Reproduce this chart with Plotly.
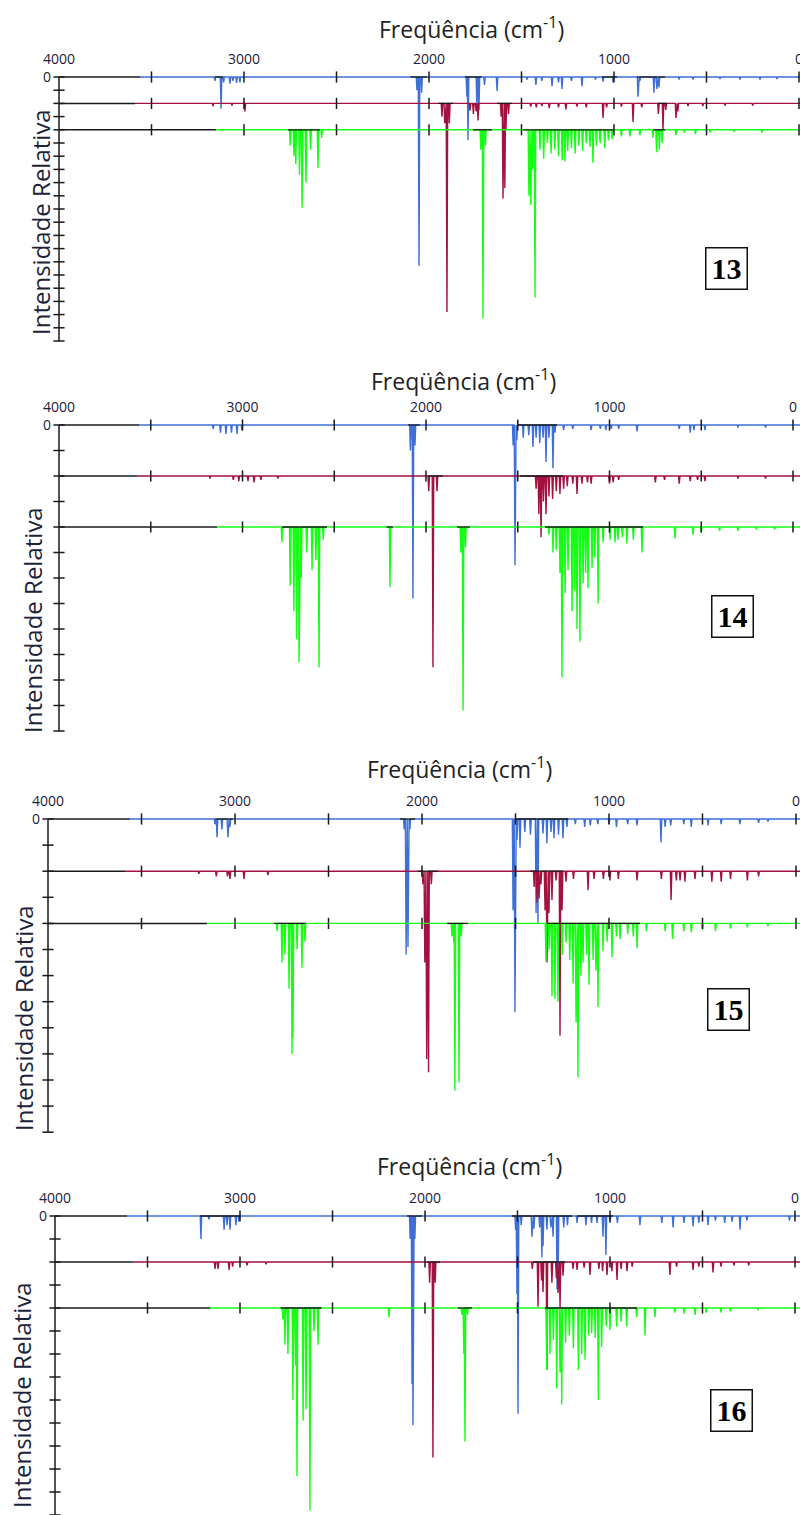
import plotly.graph_objects as go

# ------------------------------------------------------------------ data
FREQ_TICKS = [4000, 3000, 2000, 1000, 0]
FREQ_TICK_TEXT = ["4000", "3000", "2000", "1000", "0"]
BASE_TICKS = [3500, 3000, 2500, 2000, 1500, 1000, 500, 0]
COMPOUNDS = ["13", "14", "15", "16"]
SERIES_NAMES = ["blue", "maroon", "green"]
SERIES_COLORS = ["#3d6fd6", "#a3123f", "#14ff14"]
SERIES_OFFSETS = [0, -2, -4]          # baseline of each stacked spectrum (relative units)

# ---- compound 13
C13_BLUE_NU = [3157, 3124, 3110, 3076, 3060, 3040, 3022, 2065, 2054, 2040, 1795, 1789, 1741, 1730, 1700, 1632,
               1470, 1422, 1390, 1335, 1300, 1281, 1230, 1173, 1100, 1059, 1005, 870, 860, 784, 768, 757,
               648, 573, 427, 319, 211, 119]
C13_BLUE_I = [0.3, 2.4, 0.4, 0.5, 0.3, 0.45, 0.4, 1.0, 14.3, 1.2, 1.5, 4.8, 2.5, 2.5, 0.6, 1.05,
              0.2, 0.6, 0.3, 0.7, 0.4, 0.9, 0.3, 0.7, 0.2, 0.35, 0.4, 1.5, 0.3, 1.2, 0.9, 0.8,
              0.2, 0.2, 0.15, 0.2, 0.2, 0.15]
C13_MAROON_NU = [3168, 3065, 2995, 1930, 1915, 1903, 1890, 1778, 1760, 1745, 1735, 1610, 1600, 1590, 1584, 1570,
                 1450, 1420, 1390, 1350, 1300, 1260, 1200, 1150, 1059, 1040, 960, 897, 850, 760, 735, 720,
                 665, 655, 600, 520, 400, 250]
C13_MAROON_I = [0.2, 0.15, 0.6, 1.0, 1.5, 15.8, 1.5, 0.55, 0.8, 0.6, 1.3, 1.0, 7.2, 6.4, 2.0, 0.8,
                0.25, 0.3, 0.2, 0.35, 0.3, 0.45, 0.25, 0.3, 1.1, 0.3, 0.25, 1.4, 0.3, 0.8, 2.0, 0.5,
                1.1, 0.6, 0.2, 0.2, 0.15, 0.15]
C13_GREEN_NU = [2750, 2730, 2720, 2700, 2686, 2665, 2640, 2600, 2580, 1720, 1708, 1695, 1460, 1450, 1440, 1427,
                1400, 1380, 1360, 1340, 1320, 1300, 1280, 1265, 1250, 1230, 1210, 1190, 1170, 1150, 1130, 1114,
                1095, 1075, 1050, 1030, 1010, 960, 914, 860, 790, 770, 755, 740, 665, 620, 560, 480, 350, 200]
C13_GREEN_I = [1.2, 2.0, 2.6, 3.4, 5.9, 4.0, 1.5, 2.9, 0.6, 1.5, 14.3, 1.2, 5.0, 5.7, 3.0, 12.7,
               1.5, 2.2, 1.0, 1.8, 1.5, 2.0, 2.3, 2.4, 1.6, 1.4, 1.8, 1.2, 1.6, 1.0, 1.3, 2.5,
               1.2, 1.0, 1.4, 0.8, 0.7, 0.5, 0.5, 0.4, 0.6, 1.7, 1.5, 1.0, 0.4, 0.2, 0.3, 0.2, 0.15, 0.2]
C13_START = [3562, 3589, 3151]
C13_BLUE_BLACK = [(3157, 3114), (2100, 2010), (1805, 1714), (1065, 984), (876, 724)]
C13_MAROON_BLACK = [(1951, 1870), (1632, 1551), (762, 714)]
C13_GREEN_BLACK = [(2762, 2589), (1762, 1659), (1492, 1005), (789, 724)]

# ---- compound 14
C14_BLUE_NU = [3160, 3120, 3090, 3060, 3030, 3003, 2085, 2071, 2060, 1525, 1515, 1505, 1470, 1440, 1417, 1400,
               1380, 1362, 1346, 1330, 1308, 1297, 1250, 1200, 1100, 1050, 1020, 990, 950, 850, 620, 560,
               540, 480, 300, 150]
C14_BLUE_I = [0.15, 0.3, 0.35, 0.3, 0.35, 0.2, 1.0, 6.8, 0.8, 0.8, 5.5, 0.6, 0.5, 0.4, 0.86, 0.5,
              0.7, 0.5, 1.45, 0.5, 1.7, 0.3, 0.2, 0.15, 0.2, 0.15, 0.2, 0.15, 0.15, 0.25, 0.15, 0.3,
              0.2, 0.2, 0.1, 0.1]
C14_MAROON_NU = [3177, 3050, 3020, 2970, 2937, 2900, 2807, 1985, 1962, 1940, 1400, 1385, 1373, 1360, 1346, 1330,
                 1310, 1290, 1270, 1250, 1230, 1200, 1177, 1150, 1120, 1100, 1000, 980, 950, 750, 700, 620,
                 560, 520, 480, 300, 150]
C14_MAROON_I = [0.1, 0.15, 0.2, 0.2, 0.25, 0.15, 0.1, 0.6, 7.5, 0.6, 0.5, 1.5, 2.4, 1.0, 1.5, 0.8,
                0.9, 0.6, 0.7, 0.5, 0.4, 0.3, 0.7, 0.3, 0.25, 0.3, 0.3, 0.25, 0.15, 0.25, 0.15, 0.3,
                0.2, 0.15, 0.2, 0.1, 0.1]
C14_GREEN_NU = [2785, 2740, 2720, 2705, 2692, 2680, 2650, 2621, 2600, 2583, 2560, 2196, 1810, 1798, 1785, 1330,
                1308, 1290, 1270, 1259, 1242, 1226, 1204, 1190, 1177, 1161, 1144, 1130, 1117, 1095, 1080, 1062,
                1035, 997, 970, 954, 930, 905, 870, 823, 643, 545, 500, 400, 300, 200, 100]
C14_GREEN_I = [0.6, 2.3, 3.3, 4.4, 5.3, 2.0, 1.0, 1.7, 1.3, 5.5, 0.5, 2.35, 1.0, 7.2, 0.8, 0.3,
               1.0, 0.9, 1.8, 5.9, 2.6, 1.7, 3.3, 2.5, 4.0, 4.5, 2.2, 1.8, 2.4, 1.6, 1.2, 3.0,
               0.6, 0.5, 0.6, 0.5, 0.4, 0.65, 0.5, 1.0, 0.45, 0.3, 0.2, 0.15, 0.15, 0.1, 0.1]
C14_START = [3564, 3575, 3139]
C14_BLUE_BLACK = [(2098, 2033), (1499, 1286)]
C14_MAROON_BLACK = [(1989, 1907), (1488, 1253)]
C14_GREEN_BLACK = [(2785, 2540), (2215, 2180), (1831, 1760), (1351, 817)]

# ---- compound 15
C15_BLUE_NU = [3107, 3096, 3070, 3038, 3027, 2095, 2085, 2075, 2065, 1513, 1503, 1492, 1476, 1450, 1420, 1390,
               1380, 1353, 1332, 1310, 1294, 1270, 1246, 1225, 1180, 1130, 1100, 1060, 1000, 960, 900, 850,
               722, 700, 670, 600, 560, 470, 400, 300, 200, 150]
C15_BLUE_I = [0.2, 0.7, 0.4, 0.7, 0.3, 0.4, 5.2, 4.9, 0.4, 3.5, 7.4, 0.8, 1.1, 0.5, 0.6, 3.6,
              4.0, 0.55, 0.93, 0.5, 0.74, 0.6, 0.74, 0.3, 0.2, 0.3, 0.25, 0.2, 0.2, 0.3, 0.2, 0.25,
              0.9, 0.3, 0.25, 0.2, 0.3, 0.25, 0.2, 0.2, 0.15, 0.1]
C15_MAROON_NU = [3193, 3100, 3040, 3027, 2952, 2824, 1995, 1985, 1975, 1965, 1950, 1400, 1385, 1374, 1364, 1342,
                 1332, 1321, 1305, 1283, 1262, 1251, 1230, 1190, 1112, 1080, 1030, 995, 950, 850, 720, 668,
                 640, 620, 594, 540, 450, 400, 350, 260, 200]
C15_MAROON_I = [0.1, 0.2, 0.2, 0.3, 0.3, 0.15, 0.5, 3.5, 7.2, 7.7, 0.5, 0.6, 1.2, 1.05, 0.5, 1.5,
                3.5, 1.6, 1.1, 0.35, 6.3, 1.5, 0.4, 0.3, 0.73, 0.3, 0.3, 0.35, 0.3, 0.35, 0.3, 1.1,
                0.35, 0.35, 0.4, 0.3, 0.4, 0.4, 0.3, 0.35, 0.2]
C15_GREEN_NU = [2775, 2749, 2733, 2711, 2695, 2690, 2668, 2642, 2626, 1840, 1830, 1824, 1802, 1790, 1337, 1320,
                1305, 1289, 1273, 1250, 1230, 1210, 1192, 1176, 1166, 1150, 1139, 1120, 1107, 1085, 1070, 1059,
                1032, 1010, 984, 960, 941, 900, 870, 850, 800, 700, 660, 600, 560, 500, 430, 350, 260, 150]
C15_GREEN_I = [0.3, 1.5, 1.2, 2.5, 5.0, 4.4, 1.0, 1.7, 0.7, 0.5, 0.74, 6.4, 6.1, 0.5, 1.45, 1.0,
               2.8, 2.9, 3.0, 1.2, 0.73, 1.4, 2.3, 3.8, 5.9, 2.0, 1.5, 1.2, 2.35, 1.4, 1.8, 3.2,
               1.07, 0.7, 1.3, 0.5, 0.6, 0.4, 0.5, 0.95, 0.3, 0.3, 0.6, 0.3, 0.35, 0.25, 0.3, 0.2, 0.15, 0.1]
C15_START = [3561, 3588, 3150]
C15_BLUE_BLACK = [(3107, 3011), (2118, 2037), (1503, 1219)]
C15_MAROON_BLACK = [(2021, 1914), (1422, 1246)]
C15_GREEN_BLACK = [(2790, 2620), (1866, 1754), (1332, 834)]

# ---- compound 16
C16_BLUE_NU = [3211, 3168, 3086, 3070, 3054, 3022, 3005, 2080, 2070, 2065, 2055, 1510, 1503, 1497, 1480, 1422,
               1411, 1380, 1368, 1362, 1341, 1320, 1308, 1286, 1281, 1250, 1230, 1178, 1130, 1100, 1070, 1038,
               1022, 1000, 960, 838, 720, 659, 600, 551, 520, 470, 430, 380, 340, 297, 260, 30]
C16_BLUE_I = [1.0, 0.15, 0.6, 0.4, 0.6, 0.4, 0.25, 1.0, 7.3, 9.1, 1.0, 0.6, 3.4, 8.6, 0.4, 0.9,
              0.55, 0.5, 1.8, 1.3, 0.6, 0.5, 0.9, 3.2, 3.2, 0.5, 0.4, 0.3, 0.4, 0.3, 0.3, 0.9,
              1.7, 0.3, 0.3, 0.4, 0.3, 0.5, 0.3, 0.45, 0.3, 0.4, 0.2, 0.3, 0.25, 0.6, 0.2, 0.2]
C16_MAROON_NU = [3135, 3119, 3059, 3040, 2962, 2859, 1975, 1957, 1945, 1420, 1389, 1370, 1362, 1341, 1314, 1290,
                 1281, 1270, 1254, 1200, 1178, 1140, 1108, 1060, 1040, 1016, 990, 962, 940, 908, 880, 676,
                 640, 551, 520, 443, 400, 330, 250]
C16_MAROON_I = [0.3, 0.3, 0.35, 0.2, 0.15, 0.1, 0.9, 8.5, 0.9, 0.3, 1.95, 0.8, 1.3, 4.7, 0.9, 0.7,
                1.35, 2.0, 0.6, 0.3, 0.35, 0.25, 0.56, 0.3, 0.4, 0.56, 0.4, 0.78, 0.3, 0.4, 0.2, 0.56,
                0.2, 0.35, 0.2, 0.45, 0.2, 0.15, 0.15]
C16_GREEN_NU = [2768, 2757, 2741, 2714, 2700, 2692, 2659, 2643, 2622, 2600, 2578, 2195, 1800, 1790, 1784, 1770,
                1342, 1324, 1306, 1288, 1270, 1261, 1240, 1220, 1198, 1171, 1153, 1135, 1115, 1099, 1080, 1063,
                1045, 1020, 1000, 964, 940, 910, 856, 811, 757, 650, 600, 540, 480, 400, 350, 200]
C16_GREEN_I = [0.5, 1.6, 2.0, 4.0, 2.5, 7.3, 4.9, 4.4, 8.8, 1.0, 1.6, 0.4, 0.3, 2.0, 5.8, 0.3,
               2.7, 2.0, 1.4, 3.5, 2.8, 4.2, 1.5, 1.2, 1.75, 2.7, 2.0, 2.25, 1.2, 1.1, 1.3, 4.0,
               1.7, 0.8, 0.96, 0.8, 0.6, 0.8, 0.4, 1.2, 0.4, 0.2, 0.25, 0.3, 0.2, 0.2, 0.15, 0.1]
C16_START = [3611, 3578, 3162]
C16_BLUE_BLACK = [(3216, 3000), (2097, 2016), (1530, 1205), (1178, 984)]
C16_MAROON_BLACK = [(1989, 1919), (1416, 1243)]
C16_GREEN_BLACK = [(2780, 2560), (1822, 1746), (1351, 854)]

SPECTRA = {
    "13": [(C13_BLUE_NU, C13_BLUE_I, C13_BLUE_BLACK), (C13_MAROON_NU, C13_MAROON_I, C13_MAROON_BLACK),
           (C13_GREEN_NU, C13_GREEN_I, C13_GREEN_BLACK)],
    "14": [(C14_BLUE_NU, C14_BLUE_I, C14_BLUE_BLACK), (C14_MAROON_NU, C14_MAROON_I, C14_MAROON_BLACK),
           (C14_GREEN_NU, C14_GREEN_I, C14_GREEN_BLACK)],
    "15": [(C15_BLUE_NU, C15_BLUE_I, C15_BLUE_BLACK), (C15_MAROON_NU, C15_MAROON_I, C15_MAROON_BLACK),
           (C15_GREEN_NU, C15_GREEN_I, C15_GREEN_BLACK)],
    "16": [(C16_BLUE_NU, C16_BLUE_I, C16_BLUE_BLACK), (C16_MAROON_NU, C16_MAROON_I, C16_MAROON_BLACK),
           (C16_GREEN_NU, C16_GREEN_I, C16_GREEN_BLACK)],
}
STARTS = {"13": C13_START, "14": C14_START, "15": C15_START, "16": C16_START}

# ------------------------------------------------------------------ layout geometry (pixels)
W, H = 800, 1515
GEOM = [
    dict(x4000=59, xs=0.185, base=77, ppu=13.2, top=69, bottom=350, nt=20, title=(471, 28), ylab=(40, 222), box=(726, 269)),
    dict(x4000=59, xs=0.1835, base=425, ppu=25.5, top=417, bottom=740, nt=12, title=(463, 380), ylab=(32, 620), box=(732, 616)),
    dict(x4000=48, xs=0.187, base=819, ppu=26.1, top=811, bottom=1140, nt=12, title=(460, 768), ylab=(23, 1018), box=(728, 1009)),
    dict(x4000=55, xs=0.185, base=1216, ppu=23.0, top=1208, bottom=1515, nt=13, title=(469, 1165), ylab=(21, 1395), box=(731, 1410)),
]
PEAK_HALF_WIDTH = 4
LINE_W = 1.4
AXIS_COLOR = "#1a1a1a"
TEXT_FONT = "Open Sans"

fig = go.Figure()
layout_axes = {}
annotations = []

for i, (cid, g) in enumerate(zip(COMPOUNDS, GEOM)):
    xa = "x" if i == 0 else f"x{i+1}"
    ya = "y" if i == 0 else f"y{i+1}"
    xkey = "xaxis" if i == 0 else f"xaxis{i+1}"
    ykey = "yaxis" if i == 0 else f"yaxis{i+1}"

    left_px = g["x4000"] - 5
    nu_left = 4000 - (left_px - g["x4000"]) / g["xs"]
    nu_right = 4000 - (W - g["x4000"]) / g["xs"]
    u_top = -(g["top"] - g["base"]) / g["ppu"]
    u_bot = -(g["bottom"] - g["base"]) / g["ppu"]

    layout_axes[xkey] = dict(domain=[left_px / W, 1.0], range=[nu_left, nu_right], anchor=ya, side="top",
                             tickvals=FREQ_TICKS, ticktext=FREQ_TICK_TEXT, ticks="", showgrid=False,
                             zeroline=False, showline=False, ticklabelstandoff=1, automargin=False,
                             ticklabeloverflow="allow",
                             tickfont=dict(family=TEXT_FONT, size=14, color="#20203c"))
    layout_axes[ykey] = dict(domain=[1 - g["bottom"] / H, 1 - g["top"] / H], range=[u_bot, u_top], anchor=xa,
                             tickvals=[0], ticktext=["0"], ticks="", showgrid=False, zeroline=False,
                             showline=False, ticklabelstandoff=2, automargin=False,
                             tickfont=dict(family=TEXT_FONT, size=14, color="#20203c"))

    # vertical intensity axis with crossing ticks
    fig.add_trace(go.Scatter(x=[4000, 4000], y=[0, -g["nt"]], mode="lines", xaxis=xa, yaxis=ya,
                             line=dict(color=AXIS_COLOR, width=1.5), hoverinfo="skip", cliponaxis=False))
    fig.add_trace(go.Scatter(x=[4000] * (g["nt"] + 1), y=[-k for k in range(g["nt"] + 1)], mode="markers",
                             xaxis=xa, yaxis=ya, cliponaxis=False, hoverinfo="skip",
                             marker=dict(symbol="line-ew", size=8, line=dict(color=AXIS_COLOR, width=1.5))))

    for s, ((nus, ints, blacks), color, off, start) in enumerate(
            zip(SPECTRA[cid], SERIES_COLORS, SERIES_OFFSETS, STARTS[cid])):
        # black leading baseline
        fig.add_trace(go.Scatter(x=[4000, start], y=[off, off], mode="lines", xaxis=xa, yaxis=ya,
                                 line=dict(color=AXIS_COLOR, width=1.5), hoverinfo="skip"))
        # spectrum polyline
        peaks = sorted(zip(nus, ints), key=lambda t: -t[0])
        xs, ys = [start], [off]
        for nu, d in peaks:
            xs += [nu + PEAK_HALF_WIDTH, nu, nu - PEAK_HALF_WIDTH]
            ys += [off, off - d, off]
        xs.append(nu_right)
        ys.append(off)
        fig.add_trace(go.Scatter(x=xs, y=ys, mode="lines", xaxis=xa, yaxis=ya,
                                 line=dict(color=color, width=LINE_W), hoverinfo="skip"))
        # black segments over peak clusters
        bx, by = [], []
        for a, b in blacks:
            bx += [a, b, None]
            by += [off, off, None]
        fig.add_trace(go.Scatter(x=bx, y=by, mode="lines", xaxis=xa, yaxis=ya,
                                 line=dict(color=AXIS_COLOR, width=1.3), hoverinfo="skip"))
        # frequency ticks on the baseline
        fig.add_trace(go.Scatter(x=BASE_TICKS, y=[off] * len(BASE_TICKS), mode="markers", xaxis=xa, yaxis=ya,
                                 cliponaxis=False, hoverinfo="skip",
                                 marker=dict(symbol="line-ns", size=8, line=dict(color=AXIS_COLOR, width=1.5))))

    tx, ty = g["title"]
    annotations.append(dict(text="Freqüência (cm<sup>-1</sup>)", x=tx / W, y=1 - ty / H, xref="paper", yref="paper",
                            showarrow=False, xanchor="center", yanchor="middle",
                            font=dict(family=TEXT_FONT, size=23, color="#222222")))
    lx, ly = g["ylab"]
    annotations.append(dict(text="Intensidade Relativa", x=lx / W, y=1 - ly / H, xref="paper", yref="paper",
                            showarrow=False, textangle=-90, xanchor="center", yanchor="middle",
                            font=dict(family=TEXT_FONT, size=24, color="#1c2238")))
    bxp, byp = g["box"]
    annotations.append(dict(text=f"<b>{cid}</b>", x=bxp / W, y=1 - byp / H, xref="paper", yref="paper",
                            showarrow=False, xanchor="center", yanchor="middle", width=34, height=34,
                            borderpad=3, borderwidth=1.5, bordercolor="#111111", bgcolor="white",
                            font=dict(family="Liberation Serif", size=30, color="#000000")))

fig.update_layout(width=W, height=H, margin=dict(l=0, r=0, t=0, b=0), showlegend=False,
                  plot_bgcolor="white", paper_bgcolor="white", annotations=annotations, **layout_axes)

fig.write_html("out.html", config={"displayModeBar": False},
               post_script="document.body.style.margin='0';document.body.style.overflow='hidden';")
